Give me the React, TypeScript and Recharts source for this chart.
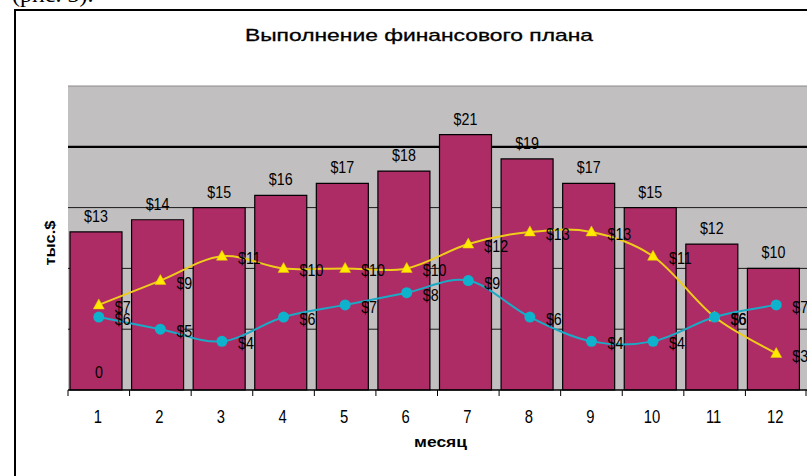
import React from 'react';
import {
  ComposedChart, Bar, Line, XAxis, YAxis, CartesianGrid, LabelList, Label,
} from 'recharts';

const months = ['1', '2', '3', '4', '5', '6', '7', '8', '9', '10', '11', '12'];
const planValues = [13, 14, 15, 16, 17, 18, 21, 19, 17, 15, 12, 10];
const yellowValues = [7, 9, 11, 10, 10, 10, 12, 13, 13, 11, 6, 3];
const cyanValues = [6, 5, 4, 6, 7, 8, 9, 6, 4, 4, 6, 7];
const zeroValues = [0, 0, 0, 0, 0, 0, 0, 0, 0, 0, 0, 0];
const yTicks = [0, 5, 10, 15, 20, 25];
const THICK_GRID_VALUE = 20;

const TITLE = 'Выполнение финансового плана';
const Y_LABEL = 'тыс.$';
const X_LABEL = 'месяц';
const CAPTION = '(рис. 3).';

const data = months.map((m, i) => ({
  month: m,
  plan: planValues[i],
  yellow: yellowValues[i],
  cyan: cyanValues[i],
  zero: zeroValues[i],
}));

const W = 807;
const H = 476;
const PLOT_LEFT = 68;
const PLOT_TOP = 86;
const PLOT_BOTTOM = 390;
const X_AXIS_H = 60;

const SANS = "'Liberation Sans', Arial, sans-serif";

// Catmull-Rom-like smoothing (Excel style)
const smoothCurve = (context: any) => {
  let pts: number[][] = [];
  return {
    areaStart() {},
    areaEnd() {},
    lineStart() { pts = []; },
    lineEnd() {
      if (!pts.length) return;
      context.moveTo(pts[0][0], pts[0][1]);
      for (let i = 0; i < pts.length - 1; i++) {
        const p0 = pts[i - 1] || pts[i];
        const p1 = pts[i];
        const p2 = pts[i + 1];
        const p3 = pts[i + 2] || p2;
        const c1x = p1[0] + (p2[0] - p0[0]) / 6;
        const c1y = p1[1] + (p2[1] - p0[1]) / 6;
        const c2x = p2[0] - (p3[0] - p1[0]) / 6;
        const c2y = p2[1] - (p3[1] - p1[1]) / 6;
        context.bezierCurveTo(c1x, c1y, c2x, c2y, p2[0], p2[1]);
      }
    },
    point(x: number, y: number) { pts.push([x, y]); },
  };
};

// condensed-looking text (no narrow font installed)
const NarrowText = ({ x, y, anchor = 'start', size = 17, sx = 0.84, children }: any) => (
  <text
    transform={`translate(${x}, ${y}) scale(${sx}, 1)`}
    textAnchor={anchor}
    fontFamily={SANS}
    fontSize={size}
    fill="#000"
  >
    {children}
  </text>
);

const Triangle = (props: any) => {
  const { cx, cy } = props;
  if (cx == null || cy == null) return null;
  return (
    <polygon
      points={`${cx},${cy - 6} ${cx - 5.5},${cy + 4} ${cx + 5.5},${cy + 4}`}
      fill="#FFEA00"
      stroke="#E8C800"
      strokeWidth={0.5}
    />
  );
};

const Dot = (props: any) => {
  const { cx, cy } = props;
  if (cx == null || cy == null) return null;
  return <circle cx={cx} cy={cy} r={5.5} fill="#0EB2CC" />;
};

const barLabel = (props: any) => {
  const { x, y, width, height, value, index } = props;
  const cx = x + width / 2;
  return (
    <g>
      <NarrowText x={cx} y={y - 10} anchor="middle">{`$${value}`}</NarrowText>
      {index === 0 && (
        <NarrowText x={cx + 3} y={y + height - 12} anchor="middle">{`${zeroValues[index]}`}</NarrowText>
      )}
    </g>
  );
};

const lineLabel = (props: any) => {
  const { x, y, value } = props;
  return <NarrowText x={x + 16} y={y + 8}>{`$${value}`}</NarrowText>;
};

const XTick = (props: any) => {
  const { x, payload, index } = props;
  const bw = (W - PLOT_LEFT) / months.length;
  return (
    <g>
      <line x1={x - bw / 2} x2={x - bw / 2} y1={PLOT_BOTTOM} y2={PLOT_BOTTOM + 6} stroke="#000" strokeWidth={1} />
      {index === months.length - 1 && (
        <line x1={x + bw / 2 - 1} x2={x + bw / 2 - 1} y1={PLOT_BOTTOM} y2={PLOT_BOTTOM + 6} stroke="#000" strokeWidth={1} />
      )}
      <NarrowText x={x - 1} y={PLOT_BOTTOM + 33} anchor="middle" size={19} sx={0.78}>
        {payload.value}
      </NarrowText>
    </g>
  );
};

const xLabelContent = (props: any) => {
  const { viewBox } = props;
  const cx = viewBox.x + viewBox.width / 2 + 3;
  return (
    <text x={cx} y={PLOT_BOTTOM + 57} textAnchor="middle" fontFamily={SANS} fontWeight="bold" fontSize={14}
      textLength={53} lengthAdjust="spacingAndGlyphs" fill="#000">
      {X_LABEL}
    </text>
  );
};

const HiddenTick = () => <g />;

const gridLine = (props: any) => {
  const { x1, x2, y1, y2, index } = props;
  const v = yTicks[index];
  if (v === 0) return <g key={`g${index}`} />;
  let stroke = '#1A1A1A';
  let sw = 1;
  if (v === THICK_GRID_VALUE) { stroke = '#000'; sw = 2.2; }
  if (v === yTicks[yTicks.length - 1]) { stroke = '#8A8A8A'; sw = 1; }
  return <line key={`g${index}`} x1={x1} x2={x2} y1={y1} y2={y2} stroke={stroke} strokeWidth={sw} />;
};

export default function App() {
  const yLabelX = 55;
  const yLabelY = (PLOT_TOP + PLOT_BOTTOM) / 2 + 5;
  return (
    <div style={{ position: 'absolute', left: 0, top: 0, width: W, height: H, overflow: 'hidden', background: '#fff' }}>
      <div style={{ position: 'absolute', left: 12, top: -19, fontFamily: "'Liberation Serif', serif", fontSize: 24, whiteSpace: 'nowrap' }}>
        {CAPTION}
      </div>
      <div style={{ position: 'absolute', left: 14, top: 9, width: 1000, height: 800, borderLeft: '2px solid #000', borderTop: '2px solid #000' }} />
      <svg style={{ position: 'absolute', left: 0, top: 0 }} width={W} height={H}>
        <text x={245} y={41} fontFamily={SANS} fontSize={17} textLength={348} lengthAdjust="spacingAndGlyphs"
          fill="#000" stroke="#000" strokeWidth={0.3}>
          {TITLE}
        </text>
        <text x={yLabelX} y={yLabelY} transform={`rotate(-90, ${yLabelX}, ${yLabelY})`} textAnchor="middle"
          fontFamily={SANS} fontWeight="bold" fontSize={14} textLength={45} lengthAdjust="spacingAndGlyphs" fill="#000">
          {Y_LABEL}
        </text>
      </svg>
      <div style={{ position: 'absolute', left: 0, top: 0 }}>
        <ComposedChart
          width={W}
          height={H}
          data={data}
          margin={{ top: PLOT_TOP, right: 0, left: PLOT_LEFT, bottom: H - PLOT_BOTTOM - X_AXIS_H }}
          barGap={0}
          barCategoryGap={0}
        >
          <CartesianGrid vertical={false} fill="#C2BFC1" horizontal={gridLine} />
          <XAxis
            dataKey="month"
            height={X_AXIS_H}
            interval={0}
            tickLine={false}
            tickSize={0}
            tickMargin={0}
            axisLine={{ stroke: '#000', strokeWidth: 1.5 }}
            tick={<XTick />}
            label={<Label content={xLabelContent} />}
          />
          <YAxis
            width={0}
            domain={[0, 25]}
            ticks={yTicks}
            tick={<HiddenTick />}
            tickLine={false}
            axisLine={{ stroke: '#8A8A8A' }}
          />
          <Bar dataKey="plan" barSize={52} fill="#AE2C66" stroke="#000" strokeWidth={1.2} isAnimationActive={false}>
            <LabelList dataKey="plan" content={barLabel} />
          </Bar>
          <Bar dataKey="zero" barSize={6} fill="transparent" isAnimationActive={false} />
          <Line
            dataKey="yellow"
            type={smoothCurve as any}
            stroke="#F0CC1A"
            strokeWidth={2}
            dot={<Triangle />}
            activeDot={false}
            isAnimationActive={false}
          >
            <LabelList dataKey="yellow" content={lineLabel} />
          </Line>
          <Line
            dataKey="cyan"
            type={smoothCurve as any}
            stroke="#1AAAC6"
            strokeWidth={2}
            dot={<Dot />}
            activeDot={false}
            isAnimationActive={false}
          >
            <LabelList dataKey="cyan" content={lineLabel} />
          </Line>
        </ComposedChart>
      </div>
    </div>
  );
}
